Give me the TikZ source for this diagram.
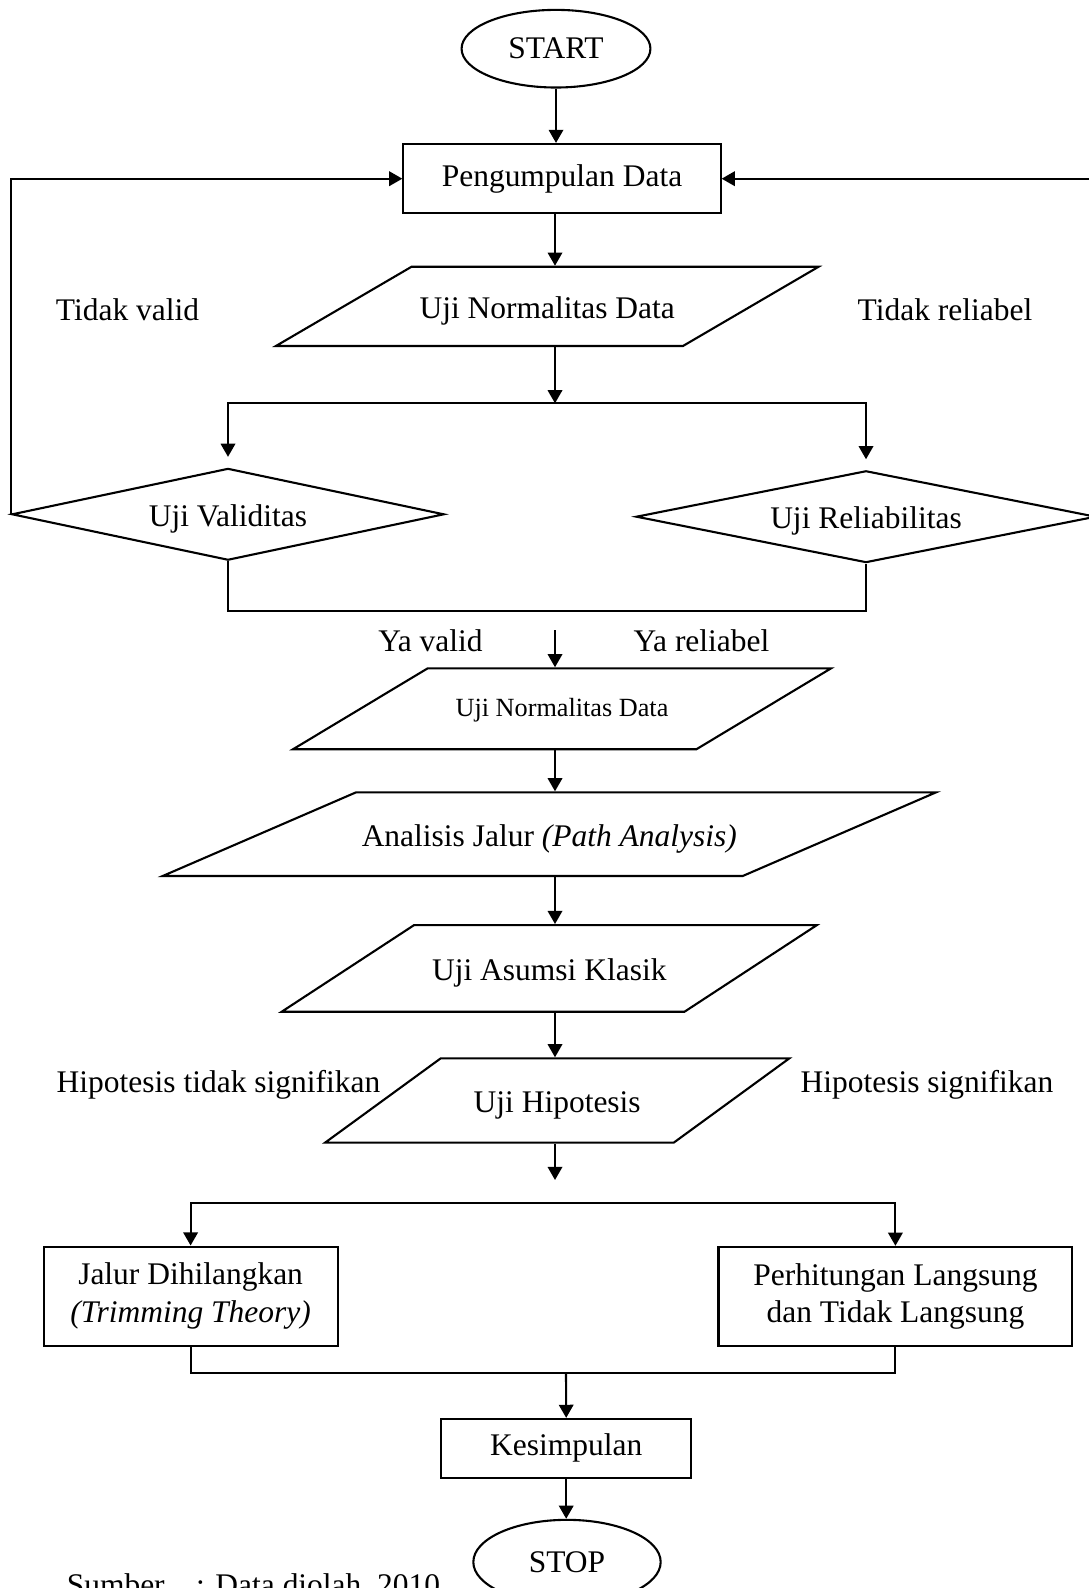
\documentclass[tikz,border=0pt]{standalone}
\usepackage{fontspec}
\setmainfont{Liberation Serif}
\usetikzlibrary{arrows.meta,shapes.geometric,calc}

\begin{document}
\begin{tikzpicture}[x=0.0134cm,y=-0.0134cm,line width=.8pt,
  every node/.style={font=\fontsize{12}{14.4}\selectfont},
  arr/.style={-{Triangle[width=5.5pt,length=5pt]}},
  box/.style={draw,rectangle,inner sep=2pt,align=center},
  term/.style={draw,ellipse,inner sep=1pt},
  para/.style={draw,trapezium,trapezium stretches body=true,inner xsep=1pt,text height=10pt,text depth=1pt},
  cek/.style={draw,diamond,inner sep=0pt,text height=10pt,text depth=1pt},
  lbl/.style={anchor=base}]
\useasboundingbox (0,0) rectangle (1089,1588);

% bagian atas
\node[term,minimum width=2.53cm,minimum height=1.04cm] (start) at (556,48.7) {START};
\node[box,minimum width=4.25cm,minimum height=.93cm] (peng) at (562,178.7) {Pengumpulan Data};
\node[para,trapezium left angle=30.3,trapezium right angle=149.7,minimum width=7.27cm,inner ysep=.3375cm] (norm1) at (547.2,306.4) {Uji Normalitas Data};
\node[cek,aspect=4.7,minimum width=5.79cm,minimum height=1.23cm] (val) at (228,514.3) {Uji Validitas};
\node[cek,aspect=5,minimum width=6.16cm,minimum height=1.23cm] (rel) at (866,516.7) {Uji Reliabilitas};

% bagian tengah
\node[para,font=\fontsize{10}{12}\selectfont,text height=7.5pt,text depth=2pt,trapezium left angle=31,trapezium right angle=149,minimum width=7.21cm,inner ysep=.3755cm] (norm2) at (562,708.8) {Uji Normalitas Data};
\node[para,trapezium left angle=23.4,trapezium right angle=156.6,minimum width=10.36cm,inner ysep=.367cm] (path) at (549.3,834.2) {Analisis Jalur \textit{(Path Analysis)}};
\node[para,trapezium left angle=33.2,trapezium right angle=146.8,minimum width=7.17cm,inner ysep=.387cm] (asumsi) at (549.3,968.4) {Uji Asumsi Klasik};
\node[para,trapezium left angle=36.1,trapezium right angle=143.9,minimum width=6.22cm,inner ysep=.3715cm] (hipo) at (557.2,1100.5) {Uji Hipotesis};

% bagian bawah
\node[box,minimum width=3.94cm,minimum height=1.33cm] (jalur) at (190.6,1296.2) {Jalur Dihilangkan\\\textit{(Trimming Theory)}};
\node[box,minimum width=4.74cm,minimum height=1.33cm] (hitung) at (895.4,1296.5) {Perhitungan Langsung\\dan Tidak Langsung};
\node[box,minimum width=3.35cm,minimum height=.79cm] (kes) at (566.2,1448.4) {Kesimpulan};
\node[term,minimum width=2.51cm,minimum height=1.13cm] (stop) at (567,1562) {STOP};

% label
\node[lbl] (tv) at (127.5,321) {Tidak valid};
\node[lbl] (tr) at (945,320.7) {Tidak reliabel};
\node[lbl] (yv) at (430.5,651.7) {Ya valid};
\node[lbl] (yr) at (701.5,651.7) {Ya reliabel};
\node[lbl] (hts) at (218.5,1092) {Hipotesis tidak signifikan};
\node[lbl] (hs) at (927,1092) {Hipotesis signifikan};
\node[anchor=base west] (src) at (57,1595) {Sumber\quad: Data diolah, 2010};

\coordinate (ax) at (555,0);
\coordinate (split) at (555,403.3);
\coordinate (join) at (555,610.7);
\coordinate (ya) at (555,630);
\coordinate (hp) at (555,1180);
\coordinate (split2) at (555,1203.3);
\coordinate (join2) at (566,1372.7);

\draw[arr] (start.south) -- (start.south |- peng.north);
\draw[arr] (peng.south -| ax) -- (norm1.north -| ax);
\draw[arr] (norm1.south -| ax) -- (split);
\draw[arr,shorten >=4pt] (split) -| (val.north);
\draw[arr,shorten >=4pt] (split) -| (rel.north);
\draw[arr] (val.west) |- (peng.west);
\draw[arr] (rel.east) -- ++(10,0) |- (peng.east);
\draw (val.south) |- (join) -| (rel.south);
\draw[arr] (ya) -- (norm2.north -| ya);
\draw[arr] (norm2.south -| ax) -- (path.north -| ax);
\draw[arr] (path.south -| ax) -- (asumsi.north -| ax);
\draw[arr] (asumsi.south -| ax) -- (hipo.north -| ax);
\draw[arr] (hipo.south -| ax) -- (hp);
\draw[arr] (split2) -| (jalur.north);
\draw[arr] (split2) -| (hitung.north);
\draw (jalur.south) |- (join2) -| (hitung.south);
\draw[arr] (join2) -- (kes.north);
\draw[arr] (kes.south) -- (kes.south |- stop.north);
\end{tikzpicture}
\end{document}
